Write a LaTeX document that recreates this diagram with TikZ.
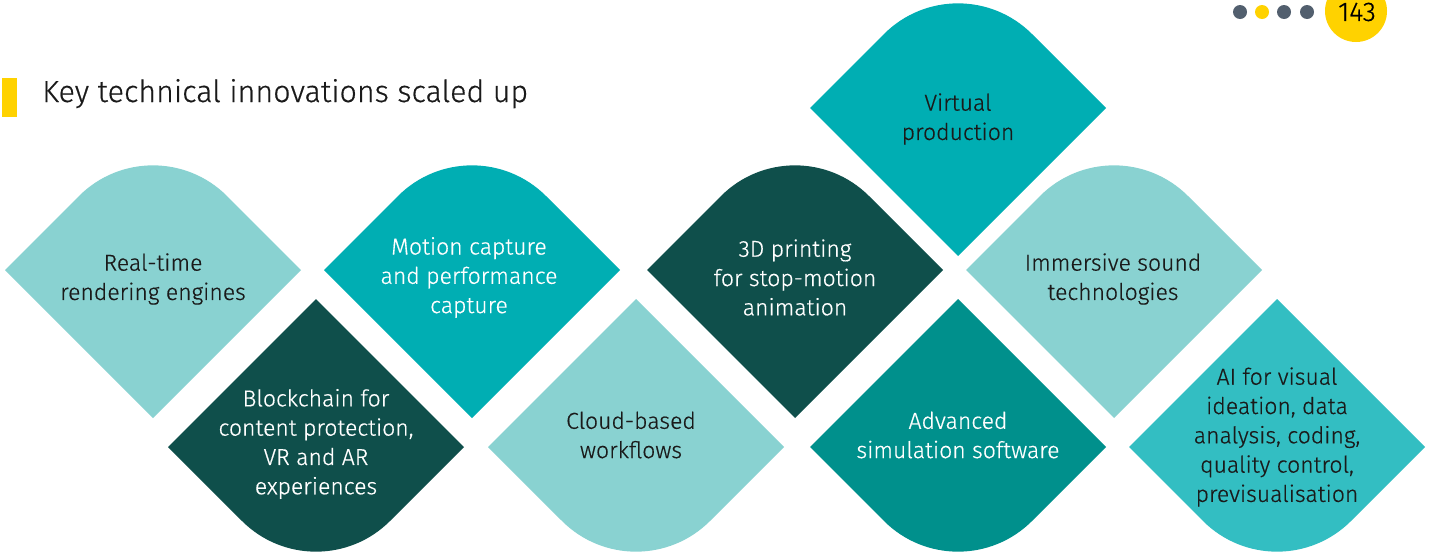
\documentclass[tikz,border=0pt]{standalone}
\usepackage{fontspec}
\setmainfont{Fira Sans Light}[FakeBold=0.5]
\definecolor{cLight}{HTML}{89D2D1}
\definecolor{cMed}{HTML}{00AEB3}
\definecolor{cDark}{HTML}{0F4F4B}
\definecolor{cAdv}{HTML}{00908C}
\definecolor{cAI}{HTML}{33BEC2}
\definecolor{cYel}{HTML}{FFD200}
\definecolor{cGray}{HTML}{525F6E}
\definecolor{cTxt}{HTML}{1A1A1A}
\newcommand\hhalf{148}
\newcommand\rrad{104.65}
\newcommand\dropUp[3]{\fill[#3] (#1-\hhalf,#2) -- (#1-\hhalf/2,#2+\hhalf/2) arc[start angle=135,end angle=45,radius=\rrad] -- (#1+\hhalf,#2) -- (#1,#2-\hhalf) -- cycle;}
\newcommand\dropDown[3]{\fill[#3] (#1,#2+\hhalf) -- (#1+\hhalf,#2) -- (#1+\hhalf/2,#2-\hhalf/2) arc[start angle=-45,end angle=-135,radius=\rrad] -- (#1-\hhalf,#2) -- cycle;}
\tikzset{
  lbl/.style={align=center, font=\fontsize{23}{29.3}\selectfont, inner sep=0pt, text=cTxt},
  lblw/.style={lbl, text=white},
  dot/.style={circle, fill=cGray, minimum size=14pt, inner sep=0pt},
}
\begin{document}
\begin{tikzpicture}[x=1pt,y=1pt]
\useasboundingbox (0,0) rectangle (1431,-555);
% header
\fill[cYel] (2,-78) rectangle (17,-117);
\node[anchor=base west, inner sep=0pt, font=\fontsize{30.5}{36}\selectfont, text=cTxt] (title) at (42,-102) {Key technical innovations scaled up};
\node[dot] (d1) at (1240,-12) {};
\node[dot, fill=cYel] (d2) at (1262,-12) {};
\node[dot] (d3) at (1284,-12) {};
\node[dot] (d4) at (1307,-12) {};
\node[circle, fill=cYel, minimum size=62pt, inner sep=0pt] (pg) at (1356,-11) {};
\node[inner sep=0pt, font=\fontsize{27}{30}\selectfont, text=black] (pgn) at (1357,-12) {143};
% shapes
\dropUp{153}{-270}{cLight}
\dropDown{316}{-447}{cDark}
\dropUp{472}{-270}{cMed}
\dropDown{636}{-447}{cLight}
\dropUp{795}{-270}{cDark}
\dropDown{958}{-447}{cAdv}
\dropUp{958}{-108}{cMed}
\dropUp{1114}{-270}{cLight}
\dropDown{1277}{-447}{cAI}
% labels
\node[lbl] (t1) at (153,-279) {Real-time\\rendering engines};
\node[lblw] (t2) at (316,-444) {Blockchain for\\content protection,\\VR and AR\\experiences};
\node[lblw] (t3) at (469,-277.5) {Motion capture\\and performance\\capture};
\node[lbl] (t4) at (631,-435) {Cloud-based\\workflows};
\node[lblw] (t5) at (795,-277.5) {3D printing\\for stop-motion\\animation};
\node[lblw] (t6) at (958,-435) {Advanced\\simulation software};
\node[lbl] (t7) at (958,-119) {Virtual\\production};
\node[lbl] (t8) at (1113,-279) {Immersive sound\\technologies};
\node[lbl] (t9) at (1277,-437) {AI for visual\\ideation, data\\analysis, coding,\\quality control,\\previsualisation};
\end{tikzpicture}
\end{document}
